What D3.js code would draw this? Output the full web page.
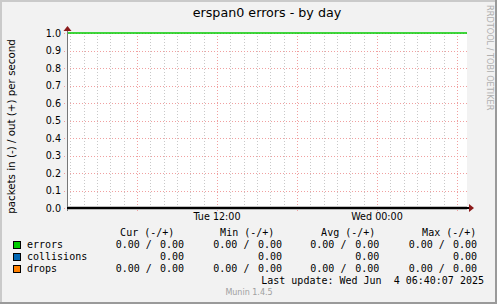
<!DOCTYPE html>
<html>
<head>
<meta charset="utf-8">
<script src="https://cdn.jsdelivr.net/npm/d3@7"></script>
<style>
  html, body { margin: 0; padding: 0; background: #f0f0f0; }
  svg { display: block; }
  text { white-space: pre; }
</style>
</head>
<body>
<div class="vis"></div>
<script>
// window of the day graph (30 hours)
const timeDomain = [new Date(Date.UTC(2025, 5, 3, 0, 45)), new Date(Date.UTC(2025, 5, 4, 6, 45))];
const yTicks = [0, 0.1, 0.2, 0.3, 0.4, 0.5, 0.6, 0.7, 0.8, 0.9, 1.0];

// traced lines (start / end of the window)
const errorsTrace = [1.0, 1.0];
const zeroTrace = [0, 0];

const seriesNames = ['errors', 'collisions', 'drops'];
const seriesColors = ['#00cc00', '#0066b3', '#ff8000'];
const columnHeads = ['Cur (-/+)', 'Min (-/+)', 'Avg (-/+)', 'Max (-/+)'];
// [in, out] for each column; null = no "in" value
const legendValues = [
    [['0.00', '0.00'], ['0.00', '0.00'], ['0.00', '0.00'], ['0.00', '0.00']],
    [[null, '0.00'], [null, '0.00'], [null, '0.00'], [null, '0.00']],
    [['0.00', '0.00'], ['0.00', '0.00'], ['0.00', '0.00'], ['0.00', '0.00']]
];
const lastUpdate = 'Last update: Wed Jun  4 06:40:07 2025';

const W = 497, H = 304;
const plot = {left: 67, right: 467, top: 33, bottom: 208};

const svg = d3.select('.vis').append('svg')
    .attr('width', W)
    .attr('height', H);

// frame
svg.append('rect').attr('width', W).attr('height', H).attr('fill', '#f2f2f2');
svg.append('path').attr('d', `M0,0H${W}V2H2V${H}H0Z`).attr('fill', '#cacaca');
svg.append('path').attr('d', `M${W},${H}H0V${H - 2}H${W - 2}V0H${W}Z`).attr('fill', '#9a9a9a');

const x = d3.scaleUtc().domain(timeDomain).range([plot.left, plot.right]);
const y = d3.scaleLinear().domain([0, 1]).range([plot.bottom, plot.top]);

svg.append('rect')
    .attr('x', plot.left).attr('y', plot.top)
    .attr('width', plot.right - plot.left).attr('height', plot.bottom - plot.top)
    .attr('fill', '#ffffff');

const minorT = x.ticks(d3.utcHour.every(1)).filter(d => d.getUTCHours() % 6 !== 0);
const majorT = x.ticks(d3.utcHour.every(6));
const labelT = x.ticks(d3.utcHour.every(12));

const grid = svg.append('g').attr('shape-rendering', 'crispEdges');
grid.selectAll('.minor').data(minorT).enter().append('line')
    .attr('x1', d => Math.round(x(d)) + 0.5).attr('x2', d => Math.round(x(d)) + 0.5)
    .attr('y1', plot.top).attr('y2', plot.bottom + 2)
    .attr('stroke', '#c8c8c8').attr('stroke-dasharray', '1,2');
grid.selectAll('.hmajor').data(yTicks).enter().append('line')
    .attr('x1', plot.left - 3).attr('x2', plot.right)
    .attr('y1', d => Math.round(y(d)) + 0.5).attr('y2', d => Math.round(y(d)) + 0.5)
    .attr('stroke', '#f0a0a0').attr('stroke-dasharray', '1,2');
grid.selectAll('.vmajor').data(majorT).enter().append('line')
    .attr('x1', d => Math.round(x(d)) + 0.5).attr('x2', d => Math.round(x(d)) + 0.5)
    .attr('y1', plot.top).attr('y2', plot.bottom + 3)
    .attr('stroke', '#f0a0a0').attr('stroke-dasharray', '1,2');

// data lines
const line = d3.line().x((d, i) => x(timeDomain[i])).y(d => y(d));
svg.append('path').datum(errorsTrace).attr('d', line)
    .attr('fill', 'none').attr('stroke', seriesColors[0]).attr('stroke-width', 1.6);
svg.append('path').datum(zeroTrace).attr('d', line)
    .attr('fill', 'none').attr('stroke', '#000').attr('stroke-width', 2.5);

// axes
svg.append('line').attr('x1', plot.left + 0.5).attr('x2', plot.left + 0.5)
    .attr('y1', plot.bottom + 3).attr('y2', plot.top - 4)
    .attr('stroke', '#777');
svg.append('line').attr('x1', plot.left).attr('x2', plot.right + 3)
    .attr('y1', y(0)).attr('y2', y(0))
    .attr('stroke', '#000').attr('stroke-width', 2);
svg.append('path').attr('d', `M${plot.left - 3.5},${plot.top - 2}L${plot.left + 0.5},${plot.top - 7}L${plot.left + 4.5},${plot.top - 2}Z`)
    .attr('fill', '#8b1a1a');
svg.append('path').attr('d', `M${plot.right + 2},${y(0) - 4}L${plot.right + 7},${y(0)}L${plot.right + 2},${y(0) + 4}Z`)
    .attr('fill', '#8b1a1a');

// tick labels
svg.selectAll('.ylab').data(yTicks).enter().append('text')
    .attr('x', plot.left - 6).attr('y', d => y(d) + 3.5)
    .attr('text-anchor', 'end')
    .attr('font-family', 'DejaVu Sans').attr('font-size', 9.6)
    .text(d => d3.format('.1f')(d));
svg.selectAll('.xlab').data(labelT).enter().append('text')
    .attr('x', d => x(d)).attr('y', 220)
    .attr('text-anchor', 'middle')
    .attr('font-family', 'DejaVu Sans').attr('font-size', 9.6)
    .text(d => d3.utcFormat('%a %H:%M')(d));

// titles
svg.append('text').attr('x', (plot.left + plot.right) / 2).attr('y', 17)
    .attr('text-anchor', 'middle')
    .attr('font-family', 'DejaVu Sans').attr('font-size', 12.7)
    .text('erspan0 errors - by day');
svg.append('text')
    .attr('transform', `translate(15,${(plot.top + plot.bottom) / 2 + 6}) rotate(-90)`)
    .attr('text-anchor', 'middle')
    .attr('font-family', 'DejaVu Sans').attr('font-size', 10.3)
    .text('packets in (-) / out (+) per second');
svg.append('text')
    .attr('transform', 'translate(487,5) rotate(90)')
    .attr('font-family', 'DejaVu Sans').attr('font-size', 8.2)
    .attr('fill', '#b0b0b0')
    .text('RRDTOOL / TOBI OETIKER');

// legend
const mono = {family: 'DejaVu Sans Mono', size: 10};
const headEnd = [174.3, 274.3, 375.3, 476.3];
const firstStart = [115.7, 213.3, 310.3, 408.7];
const secondEnd = [184, 282, 379.3, 477];
const rowY = [248, 260, 272];

const leg = svg.append('g').attr('font-family', mono.family).attr('font-size', mono.size);
leg.selectAll('.head').data(columnHeads).enter().append('text')
    .attr('x', (d, i) => headEnd[i]).attr('y', 236)
    .attr('text-anchor', 'end').text(d => d);

seriesNames.forEach((name, r) => {
    leg.append('rect').attr('x', 13.5).attr('y', rowY[r] - 6.5)
        .attr('width', 7).attr('height', 7)
        .attr('fill', seriesColors[r]).attr('stroke', '#000').attr('stroke-width', 1);
    leg.append('text').attr('x', 27).attr('y', rowY[r]).text(name);
    legendValues[r].forEach((v, c) => {
        if (v[0] !== null) {
            leg.append('text').attr('x', firstStart[c]).attr('y', rowY[r]).text(v[0] + ' /');
        }
        leg.append('text').attr('x', secondEnd[c]).attr('y', rowY[r])
            .attr('text-anchor', 'end').text(v[1]);
    });
});

leg.append('text').attr('x', 484).attr('y', 284)
    .attr('text-anchor', 'end').text(lastUpdate);

svg.append('text').attr('x', 249).attr('y', 295)
    .attr('text-anchor', 'middle')
    .attr('font-family', 'DejaVu Sans').attr('font-size', 8)
    .attr('fill', '#a0a0a0')
    .text('Munin 1.4.5');
</script>
</body>
</html>
